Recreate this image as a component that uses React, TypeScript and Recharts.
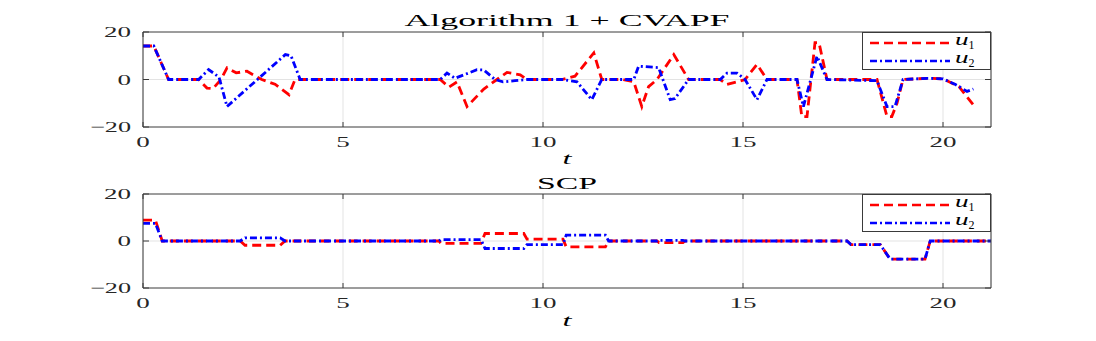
import React from 'react';
import { LineChart, Line, XAxis, YAxis, CartesianGrid, Legend } from 'recharts';

// Algorithm 1 + CVAPF, control inputs
const cvapfTimeU1 = [0, 0.27, 0.64, 1.39, 1.6, 1.75, 1.95, 2.1, 2.33, 2.6, 2.75, 2.97, 3.3, 3.65, 3.8, 7.43, 7.65, 7.85, 8.1, 8.52, 8.85, 9.1, 9.43, 9.6, 10.47, 10.8, 11.27, 11.47, 12.0, 12.27, 12.47, 12.64, 12.85, 13.27, 13.64, 14.43, 14.6, 14.85, 15.05, 15.35, 15.6, 16.35, 16.47, 16.6, 16.8, 16.9, 17.1, 18.35, 18.6, 18.72, 18.85, 19.0, 19.6, 20.0, 20.4, 20.76];
const cvapfU1 = [14.1, 14.1, 0, 0, -3.6, -3.8, 0, 4.9, 2.8, 3.5, 2, 0, -2, -6.4, 0, 0, -3.2, -1, -11.4, -4, 0, 3, 2, 0, 0, 1.4, 11.2, 0, 0, -1, -11.4, -3, 0, 10.5, 0, 0, -2.1, -1, 0, 6.4, 0, 0, -15.6, -15.6, 15.5, 15.5, 0, 0, -15.6, -15.6, -10, 0, 0.5, 0.3, -3, -10.7];

const cvapfTimeU2 = [0, 0.27, 0.64, 1.39, 1.64, 1.9, 2.1, 3.56, 3.7, 3.93, 7.43, 7.6, 7.8, 8.35, 8.52, 8.8, 9.0, 9.3, 9.6, 10.47, 10.85, 11.22, 11.47, 12.27, 12.39, 12.89, 13.18, 13.3, 13.64, 14.43, 14.6, 14.85, 15.05, 15.35, 15.6, 16.35, 16.51, 16.85, 17.1, 18.35, 18.6, 18.8, 19.0, 19.6, 20.0, 20.3, 20.6, 20.76];
const cvapfU2 = [14.1, 14.1, 0, 0, 4.2, 1, -11.4, 10.5, 10, 0, 0, 2.7, 0.5, 4.1, 4, 0, -1, -0.5, 0, 0, -1, -8.5, 0, 0, 5.6, 5, -8.5, -8, 0, 0, 2.7, 2.7, 0, -8.5, 0, 0, -11.4, 9.8, 0, -0.5, -11.4, -11.4, 0, 0.5, 0.3, -2, -5, -4];

// SCP, control inputs
const scpTime = [0, 0.31, 0.48, 2.43, 2.55, 3.43, 3.55, 7.4, 7.45, 8.45, 8.55, 9.52, 9.6, 10.5, 10.58, 11.56, 11.64, 12.85, 12.9, 13.5, 13.55, 17.6, 17.7, 18.43, 18.68, 19.55, 19.68, 21.2];
const scpU1 = [8.9, 8.9, 0, 0, -1.8, -1.8, 0, 0, -1, -1, 3.2, 3.2, 0.8, 0.8, -2.5, -2.5, 0, 0, -0.7, -0.7, 0, 0, -1.5, -1.5, -7.75, -7.75, 0, 0];
const scpU2 = [7.5, 7.5, 0, 0, 1.35, 1.35, 0, 0, 0.6, 0.6, -3.2, -3.2, -1.5, -1.5, 2.5, 2.5, 0, 0, 0.3, 0.3, 0, 0, -1.5, -1.5, -7.75, -7.75, 0, 0];

const xTicks = [0, 5, 10, 15, 20];
const yTicks = [-20, 0, 20];

const zip = (t: number[], v: number[]) => t.map((x, i) => ({ t: x, v: v[i] }));

const FONT = '"Liberation Serif", "DejaVu Serif", serif';
const AXIS = '#3a3a3a';
const RED = '#ff0000';
const BLUE = '#0000ff';
const RED_DASH = '9 5';
const BLUE_DASH = '7 3 2 3';

const PLOT_LEFT = 143;
const PLOT_RIGHT = 991;
const W = 1096;
const H = 170;
const X_AXIS_H = 30;
const Y_AXIS_W = 40;

// the source figure is widened horizontally, so glyphs get stretched
const digitW = 13.5;
const labelLen = (s: string) => s.replace('−', '').length * digitW + (s.startsWith('−') ? 14 : 0);

const makeXTick = (top: number, bottom: number) => (props: any) => {
  const { x, payload } = props;
  const s = String(payload.value);
  return (
    <g>
      <line x1={x} x2={x} y1={bottom} y2={bottom - 5} stroke={AXIS} />
      <line x1={x} x2={x} y1={top} y2={top + 5} stroke={AXIS} />
      <text x={x} y={bottom + 20} textAnchor="middle" fontFamily={FONT} fontSize={15} fill="#262626"
        textLength={labelLen(s)} lengthAdjust="spacingAndGlyphs">{s}</text>
    </g>
  );
};

const YTick = (props: any) => {
  const { y, payload } = props;
  const s = payload.value < 0 ? '−' + Math.abs(payload.value) : String(payload.value);
  const len = labelLen(s);
  return (
    <g>
      <line x1={PLOT_LEFT} x2={PLOT_LEFT + 6} y1={y} y2={y} stroke={AXIS} />
      <line x1={PLOT_RIGHT} x2={PLOT_RIGHT - 6} y1={y} y2={y} stroke={AXIS} />
      <text x={131 - len} y={y + 5} fontFamily={FONT} fontSize={15} fill="#262626"
        textLength={len} lengthAdjust="spacingAndGlyphs">{s}</text>
    </g>
  );
};

const LegendRow = ({ color, dash, sub }: { color: string; dash: string; sub: string }) => (
  <div style={{ display: 'flex', alignItems: 'center', height: 18 }}>
    <svg width={92} height={18} style={{ display: 'block' }}>
      <line x1={7} x2={87} y1={9} y2={9} stroke={color} strokeWidth={2.5} strokeDasharray={dash} />
    </svg>
    <span style={{ fontFamily: FONT, fontSize: 17, lineHeight: '18px', color: '#000', whiteSpace: 'nowrap' }}>
      <i style={{ display: 'inline-block', transform: 'scaleX(1.6)', transformOrigin: 'left', marginRight: 5 }}>u</i>
      <sub style={{ fontSize: 12 }}>{sub}</sub>
    </span>
  </div>
);

const LegendBox = () => (
  <div style={{ width: 127, height: 35, border: `1px solid ${AXIS}`, background: '#fff', paddingTop: 1 }}>
    <LegendRow color={RED} dash={RED_DASH} sub="1" />
    <LegendRow color={BLUE} dash={BLUE_DASH} sub="2" />
  </div>
);

interface PanelProps {
  offsetTop: number;
  plotTop: number;
  plotBottom: number;
  u1: { t: number; v: number }[];
  u2: { t: number; v: number }[];
}

const Panel: React.FC<PanelProps> = ({ offsetTop, plotTop, plotBottom, u1, u2 }) => (
  <div style={{ position: 'absolute', left: 0, top: offsetTop, width: W, height: H }}>
    <LineChart width={W} height={H}
      margin={{ top: plotTop - 1, bottom: H - plotBottom - X_AXIS_H, left: PLOT_LEFT - Y_AXIS_W, right: W - PLOT_RIGHT - 1 }}>
      <CartesianGrid stroke="#e3e3e3" strokeWidth={1} horizontalValues={[0]} />
      <XAxis type="number" dataKey="t" domain={[0, 21.2]} ticks={xTicks} height={X_AXIS_H}
        allowDataOverflow axisLine={{ stroke: AXIS }} tickLine={false}
        tick={makeXTick(plotTop, plotBottom)} interval={0} />
      <XAxis xAxisId="top" orientation="top" type="number" domain={[0, 21.2]} height={1}
        axisLine={{ stroke: AXIS }} tick={false} tickLine={false} />
      <YAxis type="number" domain={[-20, 20]} ticks={yTicks} width={Y_AXIS_W}
        axisLine={{ stroke: AXIS }} tickLine={false} tick={YTick} interval={0} />
      <YAxis yAxisId="right" orientation="right" type="number" domain={[-20, 20]} width={1}
        axisLine={{ stroke: AXIS }} tick={false} tickLine={false} />
      <Line data={u1} dataKey="v" type="linear" stroke={RED} strokeWidth={2.8}
        strokeDasharray={RED_DASH} dot={false} isAnimationActive={false} />
      <Line data={u2} dataKey="v" type="linear" stroke={BLUE} strokeWidth={2.8}
        strokeDasharray={BLUE_DASH} dot={false} isAnimationActive={false} />
      <Legend layout="vertical" align="center" verticalAlign="middle" content={LegendBox}
        wrapperStyle={{ position: 'absolute', left: 862, top: plotTop, width: 129, height: 37 }} />
    </LineChart>
  </div>
);

export default function App() {
  return (
    <div style={{ position: 'fixed', left: 0, top: 0, width: W, height: 341, background: '#fff' }}>
      <Panel offsetTop={0} plotTop={32} plotBottom={127}
        u1={zip(cvapfTimeU1, cvapfU1)} u2={zip(cvapfTimeU2, cvapfU2)} />
      <Panel offsetTop={162} plotTop={32} plotBottom={126}
        u1={zip(scpTime, scpU1)} u2={zip(scpTime, scpU2)} />
      <svg width={W} height={341} style={{ position: 'absolute', left: 0, top: 0, pointerEvents: 'none' }}>
        <text x={567} y={26} textAnchor="middle" fontFamily={FONT} fontSize={17} fill="#000"
          textLength={325} lengthAdjust="spacingAndGlyphs">Algorithm 1 + CVAPF</text>
        <text x={567} y={189} textAnchor="middle" fontFamily={FONT} fontSize={17} fill="#000"
          textLength={60} lengthAdjust="spacingAndGlyphs">SCP</text>
        <text x={567} y={164} textAnchor="middle" fontFamily={FONT} fontSize={17} fontStyle="italic" fill="#000"
          textLength={9} lengthAdjust="spacingAndGlyphs">t</text>
        <text x={567} y={326} textAnchor="middle" fontFamily={FONT} fontSize={17} fontStyle="italic" fill="#000"
          textLength={9} lengthAdjust="spacingAndGlyphs">t</text>
      </svg>
    </div>
  );
}
